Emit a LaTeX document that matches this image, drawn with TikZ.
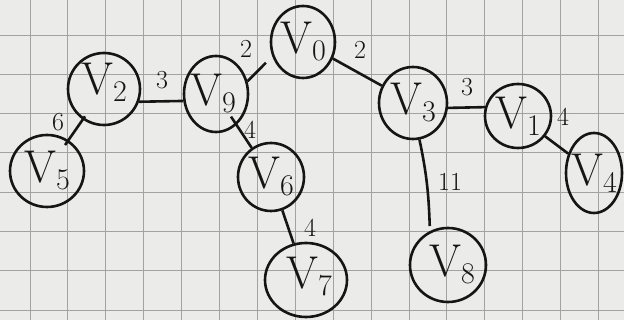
\documentclass[tikz,border=0pt]{standalone}
\usetikzlibrary{shapes.geometric}
\definecolor{paper}{HTML}{EBEBE9}
\definecolor{gridc}{HTML}{A2A2A2}
\definecolor{ink}{HTML}{151515}
\newcommand{\vx}[1]{{\fontsize{46}{46}\selectfont V}\raisebox{-7pt}{\fontsize{30}{30}\selectfont #1}}
\begin{document}
\begin{tikzpicture}[x=1pt,y=1pt,
  vert/.style={draw=ink, ellipse, line width=2.6pt, inner sep=0pt},
  edge/.style={draw=ink, line width=2.6pt},
  wt/.style={text=ink, font=\fontsize{26}{26}\selectfont, inner sep=0pt},
  vtext/.style={text=ink, inner sep=0pt}]
\fill[paper] (0,0) rectangle (624,320);
\useasboundingbox (0,0) rectangle (624,320);
\begin{scope}
  \clip (0,0) rectangle (624,320);
  \foreach \k in {-1,...,16} \draw[gridc, line width=0.9pt] ({30+37.9*\k},0) -- ({30+37.9*\k},320);
  \foreach \k in {0,...,8} \draw[gridc, line width=0.9pt] (0,{285-39.3*\k}) -- (624,{285-39.3*\k});
\end{scope}

% vertices
\node[vert, minimum width=64pt, minimum height=72pt, label={[vtext]center:\vx{0}}] (v0) at (303,278) {};
\node[vert, minimum width=72pt, minimum height=72pt, label={[vtext,yshift=7pt]center:\vx{2}}] (v2) at (104,231) {};
\node[vert, minimum width=64pt, minimum height=76pt, label={[vtext,xshift=-3pt]center:\vx{9}}] (v9) at (216,226) {};
\node[vert, minimum width=74pt, minimum height=72pt, label={[vtext]center:\vx{5}}] (v5) at (47,149) {};
\node[vert, minimum width=66pt, minimum height=68pt, label={[vtext]center:\vx{6}}] (v6) at (271,143) {};
\node[vert, minimum width=82pt, minimum height=74pt, label={[vtext,xshift=3pt,yshift=3pt]center:\vx{7}}] (v7) at (306,40) {};
\node[vert, minimum width=76pt, minimum height=74pt, label={[vtext,xshift=4pt]center:\vx{8}}] (v8) at (448,55) {};
\node[vert, minimum width=68pt, minimum height=72pt, label={[vtext]center:\vx{3}}] (v3) at (413,217) {};
\node[vert, minimum width=66pt, minimum height=64pt, label={[vtext]center:\vx{1}}] (v1) at (518,204) {};
\node[vert, minimum width=56pt, minimum height=80pt, label={[vtext]center:\vx{4}}] (v4) at (594,147) {};

% edges
\draw[edge, shorten <=-4pt, shorten >=-6pt] (v2) -- (v5);
\draw[edge] (v2.-20) -- (v9.192);
\draw[edge, shorten >=9pt] (v9.22) -- (v0.205);
\draw[edge, shorten <=-10pt] (v9) -- (v6);
\draw[edge] (v0) -- (v3);
\draw[edge] (v3.-8) -- (v1.165);
\draw[edge] (v1) -- (v4);
\draw[edge] (v6) -- (v7);
\draw[edge, shorten >=5pt] (v3.-80) to[out=-78,in=92] (v8.118);

% weights
\node[wt] (w25) at (58,198) {6};
\node[wt] (w29) at (162,240) {3};
\node[wt] (w90) at (246,271) {2};
\node[wt] (w96) at (250,190) {4};
\node[wt] (w03) at (360,270) {2};
\node[wt] (w31) at (467,233) {3};
\node[wt] (w14) at (563,203) {4};
\node[wt] (w38) at (450,138) {11};
\node[wt] (w67) at (310,92) {4};
\end{tikzpicture}
\end{document}
